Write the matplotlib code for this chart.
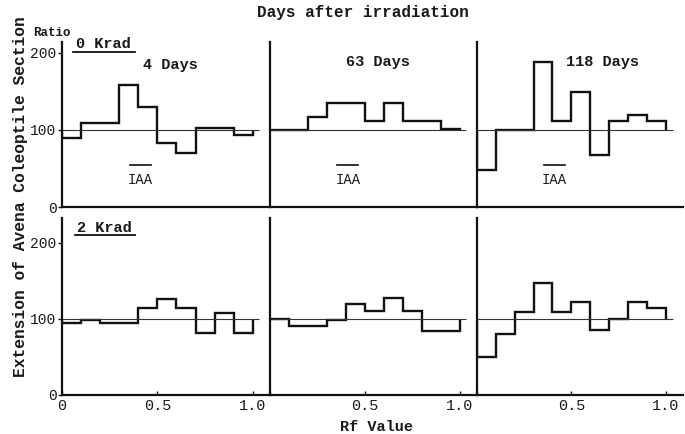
import matplotlib
matplotlib.use("Agg")
import matplotlib.pyplot as plt

# ---- data (ratio vs Rf value) ----
doses = ["0 Krad", "2 Krad"]
days = ["4 Days", "63 Days", "118 Days"]
ref_level = 100

# 0 Krad row
edges_0k_4 = [0, .1, .3, .4, .5, .6, .7, .9, 1.0]
ratio_0k_4 = [90, 109, 158, 130, 83, 70, 103, 94]
edges_0k_63 = [0, .2, .3, .5, .6, .7, .9, 1.0]
ratio_0k_63 = [100, 117, 135, 111, 135, 111, 101]
edges_0k_118 = [0, .1, .3, .4, .5, .6, .7, .8, .9, 1.0]
ratio_0k_118 = [48, 100, 188, 111, 149, 67, 111, 120, 111]

# 2 Krad row
edges_2k_4 = [0, .1, .2, .4, .5, .6, .7, .8, .9, 1.0]
ratio_2k_4 = [95, 99, 95, 114, 126, 114, 82, 108, 82]
edges_2k_63 = [0, .1, .3, .4, .5, .6, .7, .8, 1.0]
ratio_2k_63 = [100, 91, 99, 120, 110, 128, 110, 84]
edges_2k_118 = [0, .1, .2, .3, .4, .5, .6, .7, .8, .9, 1.0]
ratio_2k_118 = [50, 80, 109, 147, 109, 122, 85, 100, 122, 114]

panels = [
    [(edges_0k_4, ratio_0k_4), (edges_0k_63, ratio_0k_63), (edges_0k_118, ratio_0k_118)],
    [(edges_2k_4, ratio_2k_4), (edges_2k_63, ratio_2k_63), (edges_2k_118, ratio_2k_118)],
]

plt.rcParams['font.family'] = ['Liberation Mono', 'DejaVu Sans Mono']
ink = '#1a1a1a'
plt.rcParams['text.color'] = ink
plt.rcParams['xtick.color'] = ink
plt.rcParams['ytick.color'] = ink

fig = plt.figure(figsize=(6.85, 4.34), dpi=100)

col_left = [0.0905, 0.394, 0.696]
col_w = [0.3035, 0.302, 0.301]
row_bottom = [0.523, 0.090]
row_h = [0.380, 0.408]
row_ymax = [214, 233]
title_x = [0.52, 0.52, 0.61]

for r in range(2):
    for c in range(3):
        ax = fig.add_axes([col_left[c], row_bottom[r], col_w[c], row_h[r]])
        edges, vals = panels[r][c]
        ax.hlines(ref_level, 0, 1.035, color='#333333', lw=0.8)
        ax.stairs(vals, edges, baseline=ref_level, color='#111111', lw=1.7)
        ax.set_xlim(0, 1.09)
        ax.set_ylim(0, row_ymax[r])
        for s in ['top', 'right']:
            ax.spines[s].set_visible(False)
        for s in ['left', 'bottom']:
            ax.spines[s].set_linewidth(1.6)
            ax.spines[s].set_color('#111111')
        ax.patch.set_alpha(0)

        # y ticks only in the first column
        if c == 0:
            ax.set_yticks([0, 100, 200])
            ax.set_yticklabels(['0', '100', '200'], fontsize=10.5)
            ax.tick_params(axis='y', length=3, width=1, pad=1)
        else:
            ax.set_yticks([])

        # x ticks only in the bottom row
        if r == 1:
            ax.set_xticks([0, 0.5, 1.0])
            lbls = ['0', '0.5', '1.0'] if c == 0 else ['', '0.5', '1.0']
            ax.set_xticklabels(lbls, fontsize=11)
            ax.tick_params(axis='x', direction='in', length=3, width=1, pad=3)
        else:
            ax.set_xticks([])

        if r == 0:
            ax.text(title_x[c], 0.86 if c == 0 else 0.88, days[c], transform=ax.transAxes,
                    ha='center', va='center', fontsize=11, fontweight='bold')
            # IAA marker with overline
            ax.text(0.41, 35, 'IAA', ha='center', va='center', fontsize=10)
            ax.plot([0.355, 0.465], [54, 54], color='#111111', lw=1.2)

fig.text(0.53, 0.972, 'Days after irradiation', ha='center', va='center',
         fontsize=11.5, fontweight='bold')
fig.text(0.075, 0.924, 'Ratio', ha='center', va='center', fontsize=9, fontweight='bold')

# dose labels, underlined
fig.text(0.151, 0.898, doses[0], ha='center', va='center', fontsize=11, fontweight='bold')
fig.add_artist(plt.Line2D([0.107, 0.197], [0.880, 0.880], color='#111111', lw=1.3))
fig.text(0.153, 0.475, doses[1], ha='center', va='center', fontsize=11, fontweight='bold')
fig.add_artist(plt.Line2D([0.109, 0.197], [0.458, 0.458], color='#111111', lw=1.3))

fig.text(0.030, 0.546, 'Extension of Avena Coleoptile Section', rotation=90,
         ha='center', va='center', fontsize=11.7, fontweight='bold')
fig.text(0.549, 0.016, 'Rf Value', ha='center', va='center', fontsize=11, fontweight='bold')

fig.savefig('out.png', dpi=100)
